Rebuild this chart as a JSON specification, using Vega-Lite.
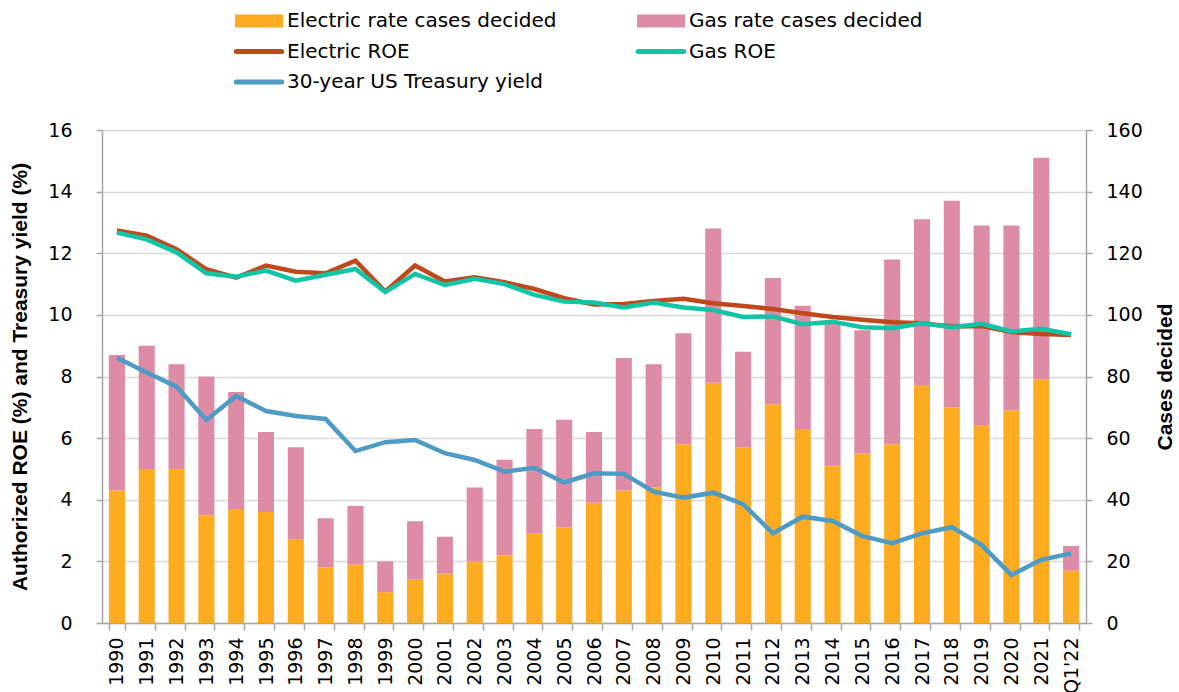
{
  "$schema": "https://vega.github.io/schema/vega-lite/v6.json",
  "width": 984,
  "height": 493,
  "autosize": {"type": "none"},
  "padding": {"left": 102, "top": 130, "right": 93, "bottom": 69},
  "background": "white",
  "config": {"view": {"stroke": null}},
  "data": {"values": [
    {"year": "1990", "electric_cases": 43, "gas_cases": 44, "electric_roe": 12.74, "gas_roe": 12.67, "treasury_30y": 8.61},
    {"year": "1991", "electric_cases": 50, "gas_cases": 40, "electric_roe": 12.57, "gas_roe": 12.45, "treasury_30y": 8.13},
    {"year": "1992", "electric_cases": 50, "gas_cases": 34, "electric_roe": 12.13, "gas_roe": 12.03, "treasury_30y": 7.67},
    {"year": "1993", "electric_cases": 35, "gas_cases": 45, "electric_roe": 11.48, "gas_roe": 11.35, "treasury_30y": 6.59},
    {"year": "1994", "electric_cases": 37, "gas_cases": 38, "electric_roe": 11.21, "gas_roe": 11.24, "treasury_30y": 7.37},
    {"year": "1995", "electric_cases": 36, "gas_cases": 26, "electric_roe": 11.6, "gas_roe": 11.44, "treasury_30y": 6.88},
    {"year": "1996", "electric_cases": 27, "gas_cases": 30, "electric_roe": 11.4, "gas_roe": 11.11, "treasury_30y": 6.72},
    {"year": "1997", "electric_cases": 18, "gas_cases": 16, "electric_roe": 11.35, "gas_roe": 11.3, "treasury_30y": 6.62},
    {"year": "1998", "electric_cases": 19, "gas_cases": 19, "electric_roe": 11.76, "gas_roe": 11.49, "treasury_30y": 5.58},
    {"year": "1999", "electric_cases": 10, "gas_cases": 10, "electric_roe": 10.76, "gas_roe": 10.74, "treasury_30y": 5.87},
    {"year": "2000", "electric_cases": 14, "gas_cases": 19, "electric_roe": 11.6, "gas_roe": 11.33, "treasury_30y": 5.94},
    {"year": "2001", "electric_cases": 16, "gas_cases": 12, "electric_roe": 11.08, "gas_roe": 10.97, "treasury_30y": 5.51},
    {"year": "2002", "electric_cases": 20, "gas_cases": 24, "electric_roe": 11.22, "gas_roe": 11.17, "treasury_30y": 5.29},
    {"year": "2003", "electric_cases": 22, "gas_cases": 31, "electric_roe": 11.06, "gas_roe": 11.0, "treasury_30y": 4.91},
    {"year": "2004", "electric_cases": 29, "gas_cases": 34, "electric_roe": 10.84, "gas_roe": 10.65, "treasury_30y": 5.04},
    {"year": "2005", "electric_cases": 31, "gas_cases": 35, "electric_roe": 10.54, "gas_roe": 10.43, "treasury_30y": 4.56},
    {"year": "2006", "electric_cases": 39, "gas_cases": 23, "electric_roe": 10.34, "gas_roe": 10.4, "treasury_30y": 4.86},
    {"year": "2007", "electric_cases": 43, "gas_cases": 43, "electric_roe": 10.35, "gas_roe": 10.24, "treasury_30y": 4.84},
    {"year": "2008", "electric_cases": 44, "gas_cases": 40, "electric_roe": 10.45, "gas_roe": 10.4, "treasury_30y": 4.26},
    {"year": "2009", "electric_cases": 58, "gas_cases": 36, "electric_roe": 10.52, "gas_roe": 10.24, "treasury_30y": 4.07},
    {"year": "2010", "electric_cases": 78, "gas_cases": 50, "electric_roe": 10.38, "gas_roe": 10.16, "treasury_30y": 4.23},
    {"year": "2011", "electric_cases": 57, "gas_cases": 31, "electric_roe": 10.29, "gas_roe": 9.93, "treasury_30y": 3.86},
    {"year": "2012", "electric_cases": 71, "gas_cases": 41, "electric_roe": 10.19, "gas_roe": 9.95, "treasury_30y": 2.91},
    {"year": "2013", "electric_cases": 63, "gas_cases": 40, "electric_roe": 10.05, "gas_roe": 9.7, "treasury_30y": 3.45},
    {"year": "2014", "electric_cases": 51, "gas_cases": 47, "electric_roe": 9.93, "gas_roe": 9.78, "treasury_30y": 3.31},
    {"year": "2015", "electric_cases": 55, "gas_cases": 40, "electric_roe": 9.84, "gas_roe": 9.6, "treasury_30y": 2.82},
    {"year": "2016", "electric_cases": 58, "gas_cases": 60, "electric_roe": 9.76, "gas_roe": 9.57, "treasury_30y": 2.59},
    {"year": "2017", "electric_cases": 77, "gas_cases": 54, "electric_roe": 9.73, "gas_roe": 9.73, "treasury_30y": 2.91},
    {"year": "2018", "electric_cases": 70, "gas_cases": 67, "electric_roe": 9.62, "gas_roe": 9.6, "treasury_30y": 3.11},
    {"year": "2019", "electric_cases": 64, "gas_cases": 65, "electric_roe": 9.64, "gas_roe": 9.71, "treasury_30y": 2.53},
    {"year": "2020", "electric_cases": 69, "gas_cases": 60, "electric_roe": 9.44, "gas_roe": 9.46, "treasury_30y": 1.56},
    {"year": "2021", "electric_cases": 79, "gas_cases": 72, "electric_roe": 9.38, "gas_roe": 9.55, "treasury_30y": 2.05},
    {"year": "Q1'22", "electric_cases": 17, "gas_cases": 8, "electric_roe": 9.35, "gas_roe": 9.37, "treasury_30y": 2.26}
  ]},
  "transform": [
    {"fold": ["electric_cases", "gas_cases", "electric_roe", "gas_roe", "treasury_30y"], "as": ["series", "value"]}
  ],
  "encoding": {
    "x": {
      "field": "year",
      "type": "ordinal",
      "scale": {"paddingInner": 0.46, "paddingOuter": 0.23},
      "axis": {
        "title": null,
        "labelAngle": -90,
        "labelFont": "DejaVu Sans",
        "labelFontSize": 19,
        "labelColor": "#000000",
        "labelPadding": 7,
        "labelOverlap": false,
        "tickBand": "extent",
        "tickSize": 7,
        "tickColor": "#a6a6a6",
        "tickWidth": 1.5,
        "domainColor": "#a6a6a6",
        "domainWidth": 1.5
      }
    }
  },
  "layer": [
    {
      "transform": [{"filter": {"field": "series", "oneOf": ["electric_cases", "gas_cases"]}}],
      "mark": {"type": "bar"},
      "encoding": {
        "y": {
          "field": "value",
          "type": "quantitative",
          "stack": "zero",
          "scale": {"domain": [0, 160], "nice": false},
          "axis": {
            "orient": "right",
            "values": [0, 20, 40, 60, 80, 100, 120, 140, 160],
            "grid": false,
            "labelFont": "DejaVu Sans",
            "labelFontSize": 19,
            "labelColor": "#000000",
            "labelPadding": 14,
            "tickSize": 6,
            "tickColor": "#a6a6a6",
            "tickWidth": 1.5,
            "domainColor": "#a6a6a6",
            "domainWidth": 1.5,
            "title": "Cases decided",
            "titleFont": "Liberation Sans",
            "titleFontSize": 21,
            "titleFontWeight": "bold",
            "titleColor": "#000000",
            "titleAngle": 270,
            "titleX": 79,
            "titleY": 246.5,
            "titleAlign": "center",
            "titleBaseline": "middle"
          }
        },
        "order": {"field": "series", "sort": "ascending"},
        "color": {
          "field": "series",
          "type": "nominal",
          "scale": {
            "domain": ["electric_cases", "gas_cases", "electric_roe", "gas_roe", "treasury_30y"],
            "range": ["#FDAB1F", "#DE8BA6", "#C0481B", "#10C5A6", "#4E9BC6"]
          },
          "legend": {
            "orient": "none",
            "legendX": 147,
            "legendY": -119,
            "direction": "horizontal",
            "columns": 2,
            "title": null,
            "padding": 0,
            "labelFont": "DejaVu Sans",
            "labelFontSize": 20,
            "labelColor": "#000000",
            "labelLimit": 500,
            "labelOffset": 18,
            "columnPadding": 71,
            "rowPadding": 10.5,
            "symbolSize": 169,
            "symbolType": "M-3.7,-1H3.7V1H-3.7Z",
            "labelExpr": "datum.value == 'electric_cases' ? 'Electric rate cases decided' : datum.value == 'gas_cases' ? 'Gas rate cases decided' : datum.value == 'electric_roe' ? 'Electric ROE' : datum.value == 'gas_roe' ? 'Gas ROE' : '30-year US Treasury yield'",
            "encode": {
              "symbols": {
                "update": {
                  "shape": {"signal": "indexof(['electric_roe','gas_roe','treasury_30y'], datum.value) >= 0 ? 'M-3.5,0H3.5' : 'M-3.7,-1H3.7V1H-3.7Z'"},
                  "fill": {"signal": "indexof(['electric_roe','gas_roe','treasury_30y'], datum.value) >= 0 ? 'transparent' : scale('color', datum.value)"},
                  "stroke": {"signal": "indexof(['electric_roe','gas_roe','treasury_30y'], datum.value) >= 0 ? scale('color', datum.value) : 'transparent'"},
                  "strokeWidth": {"signal": "indexof(['electric_roe','gas_roe','treasury_30y'], datum.value) >= 0 ? 5 : 0"},
                  "strokeCap": {"value": "round"},
                  "opacity": {"value": 1}
                }
              }
            }
          }
        }
      }
    },
    {
      "transform": [{"filter": {"field": "series", "oneOf": ["electric_roe", "gas_roe", "treasury_30y"]}}],
      "mark": {"type": "line", "strokeWidth": 4.5},
      "encoding": {
        "y": {
          "field": "value",
          "type": "quantitative",
          "scale": {"domain": [0, 16], "nice": false},
          "axis": {
            "orient": "left",
            "values": [0, 2, 4, 6, 8, 10, 12, 14, 16],
            "grid": true,
            "gridColor": "#d9d9d9",
            "gridWidth": 1.5,
            "labelFont": "DejaVu Sans",
            "labelFontSize": 19,
            "labelColor": "#000000",
            "labelPadding": 24,
            "tickSize": 6,
            "tickColor": "#a6a6a6",
            "tickWidth": 1.5,
            "domainColor": "#a6a6a6",
            "domainWidth": 1.5,
            "title": "Authorized ROE (%) and Treasury yield (%)",
            "titleFont": "Liberation Sans",
            "titleFontSize": 21,
            "titleFontWeight": "bold",
            "titleColor": "#000000",
            "titleAngle": 270,
            "titleX": -82,
            "titleY": 246.5,
            "titleAlign": "center",
            "titleBaseline": "middle"
          }
        },
        "color": {"field": "series", "type": "nominal"}
      }
    }
  ],
  "resolve": {"scale": {"y": "independent"}}
}
